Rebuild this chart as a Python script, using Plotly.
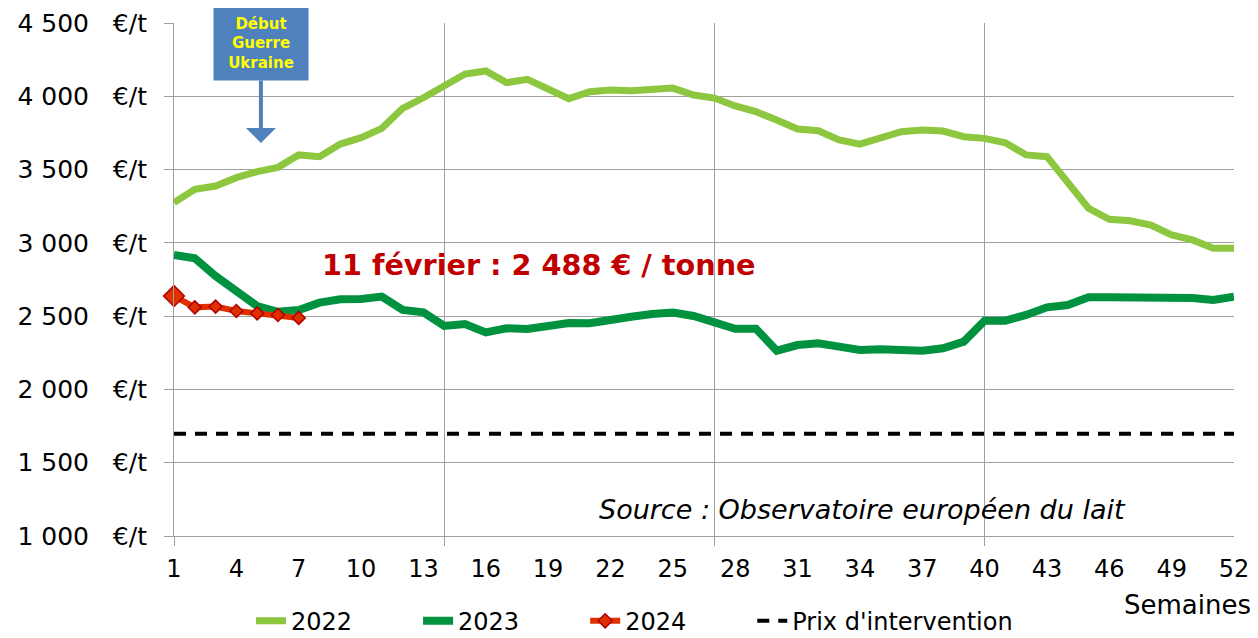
import plotly.graph_objects as go

# Semaines de l'année
semaines = list(range(1, 53))

# Prix de la poudre de lait écrémé (€/t)
prix_2022 = [3275, 3365, 3388, 3445, 3486, 3515, 3600, 3588, 3674, 3718,
             3781, 3918, 3990, 4070, 4152, 4173, 4093, 4116, 4048, 3984,
             4031, 4043, 4038, 4048, 4056, 4009, 3988, 3934, 3895, 3838,
             3777, 3765, 3702, 3674, 3711, 3758, 3770, 3763, 3724, 3713,
             3683, 3600, 3588, 3417, 3236, 3161, 3151, 3122, 3054, 3020,
             2963, 2963]

prix_2023 = [2917, 2895, 2774, 2674, 2569, 2530, 2542, 2592, 2615, 2617,
             2633, 2542, 2526, 2433, 2446, 2389, 2417, 2412, 2433, 2453,
             2451, 2480, 2496, 2515, 2524, 2501, 2462, 2414, 2414, 2264,
             2303, 2315, 2292, 2269, 2274, 2264, 2264, 2281, 2326, 2469,
             2469, 2508, 2560, 2576, 2629, 2629, 2629, 2617, 2624, 2624,
             2610, 2633]

semaines_2024 = [1, 2, 3, 4, 5, 6, 7]
prix_2024 = [2637, 2560, 2565, 2535, 2519, 2508, 2488]

semaines_intervention = [1, 52]
prix_intervention = [1698, 1698]

# Axes
ticks_y = [1000, 1500, 2000, 2500, 3000, 3500, 4000, 4500]
labels_y = ["1 000", "1 500", "2 000", "2 500", "3 000", "3 500", "4 000", "4 500"]
ticks_x = [1, 4, 7, 10, 13, 16, 19, 22, 25, 28, 31, 34, 37, 40, 43, 46, 49, 52]
trimestres = [1, 14, 27, 40]

GRID = "#A0A0A0"
FONT = "DejaVu Sans"
NB = "\u00a0"
PAD = NB * 8  # espace entre les entrées de légende

fig = go.Figure()

fig.add_trace(go.Scatter(
    x=semaines, y=prix_2022, mode="lines", name="2022" + PAD,
    line=dict(color="#8DC63F", width=7)
))
fig.add_trace(go.Scatter(
    x=semaines, y=prix_2023, mode="lines", name="2023" + PAD,
    line=dict(color="#00923F", width=8)
))
fig.add_trace(go.Scatter(
    x=semaines_2024, y=prix_2024, mode="lines+markers", name="2024" + PAD,
    line=dict(color="#E03000", width=6), cliponaxis=False,
    marker=dict(symbol="diamond", size=[16, 10, 10, 10, 10, 10, 10],
                color="#E03000", opacity=1,
                line=dict(color="#B00000", width=1.5))
))
fig.add_trace(go.Scatter(
    x=semaines_intervention, y=prix_intervention, mode="lines",
    name="Prix d'intervention", xaxis="x2",
    line=dict(color="black", width=4, dash="12px,9px")
))

fig.add_annotation(
    xref="paper", yref="paper", x=0.1377, y=0.528,
    xanchor="left", yanchor="middle", showarrow=False,
    text="<b>11 février : 2 488 € / tonne</b>",
    font=dict(family=FONT, size=28.7, color="#C00000")
)

fig.add_annotation(
    xref="paper", yref="paper", x=0.399, y=0.0507,
    xanchor="left", yanchor="middle", showarrow=False,
    text="<i>Source : Observatoire européen du lait</i>",
    font=dict(family=FONT, size=27, color="black")
)

fig.add_annotation(
    xref="paper", yref="paper", x=1.018, y=-0.1345,
    xanchor="right", yanchor="middle", showarrow=False,
    text="Semaines",
    font=dict(family=FONT, size=26, color="black")
)

# Encadré "Début Guerre Ukraine"
fig.add_annotation(
    xref="paper", yref="paper", x=0.082, y=0.766,
    ax=0, ay=-100,
    text="<b>Début<br>Guerre<br>Ukraine</b>",
    font=dict(family=FONT, size=15, color="#FFFF00"),
    bgcolor="#4F81BD", width=94, height=74, borderpad=0,
    showarrow=True, arrowhead=1, arrowsize=1.25, arrowwidth=4,
    arrowcolor="#4F81BD"
)

# la page ajoute une marge de 8 px : figure 1250 x 630
fig.update_layout(
    width=1250, height=630,
    margin=dict(l=166, r=24, t=15, b=102, autoexpand=False),
    paper_bgcolor="white", plot_bgcolor="white",
    font=dict(family=FONT, size=24, color="black"),
    showlegend=True,
    legend=dict(
        orientation="h", x=0.0726, y=-0.166, xanchor="left", yanchor="middle",
        font=dict(family=FONT, size=24), bgcolor="rgba(0,0,0,0)"
    ),
    xaxis=dict(
        range=[1, 52], tickvals=trimestres, showticklabels=False,
        ticks="outside", ticklen=9, tickcolor=GRID,
        showgrid=True, gridcolor=GRID, gridwidth=1,
        showline=True, linecolor=GRID, zeroline=False, automargin=False
    ),
    xaxis2=dict(
        range=[1, 52], overlaying="x", anchor="y", side="bottom",
        tickvals=ticks_x, ticks="", showgrid=False, showline=False,
        zeroline=False, ticklabelstandoff=16, automargin=False,
        tickfont=dict(family=FONT, size=24)
    ),
    yaxis=dict(
        range=[1000, 4500], tickvals=ticks_y,
        ticktext=[t.replace(" ", NB) + NB * 3 + "€/t" for t in labels_y],
        ticks="outside", ticklen=9, tickcolor=GRID,
        showgrid=True, gridcolor=GRID, gridwidth=1,
        showline=True, linecolor=GRID, zeroline=False, automargin=False,
        ticklabelstandoff=12, tickfont=dict(family=FONT, size=25)
    )
)

fig.write_html("out.html")
